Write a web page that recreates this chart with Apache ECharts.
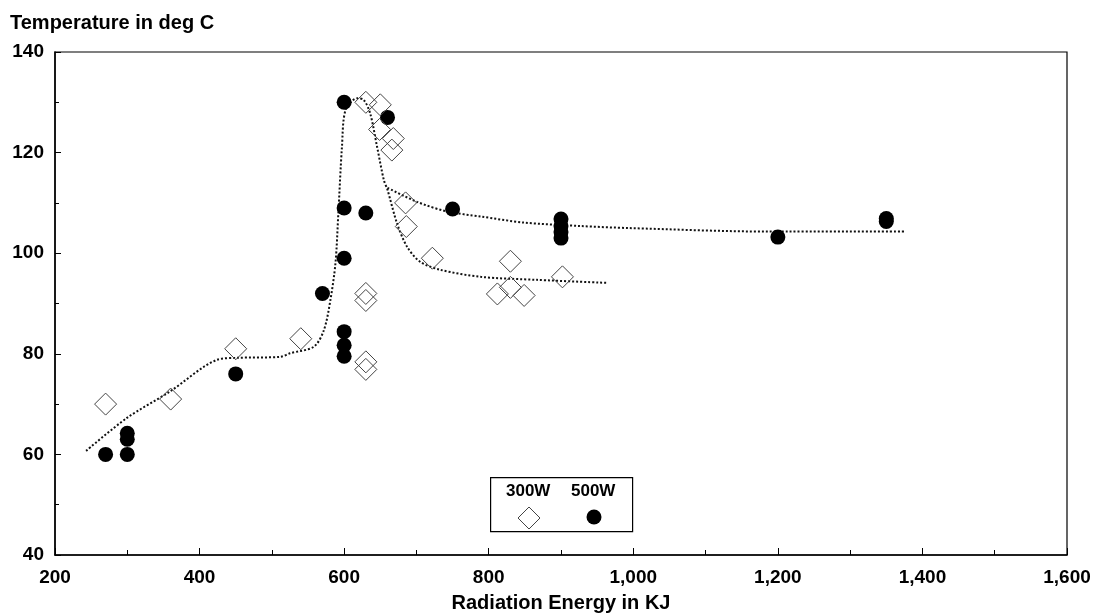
<!DOCTYPE html>
<html>
<head>
<meta charset="utf-8">
<script src="https://cdn.jsdelivr.net/npm/echarts@6/dist/echarts.min.js"></script>
<style>html,body{margin:0;padding:0;background:#fff}#c{width:1093px;height:613px}</style>
</head>
<body>
<div id="c"></div>
<script>
// 300W measurements [energy kJ, temperature °C]
const data300W = [[270,70],[360,71],[450,81],[540,83],[630,92],[630,90.6],[630,78.4],[630,76.9],
  [630,130],[650,129.5],[649,124.6],[668,122.8],[666,120.5],[685,110],[686,105.3],[722,99],
  [830,98.4],[830,93.2],[812,91.9],[849,91.6],[902,95.3]];
// 500W measurements
const data500W = [[270,60],[300,60],[300,63],[300,64.2],[450,76],[570,92],[600,130],[600,109],
  [600,99],[600,84.4],[600,81.7],[600,79.5],[630,108],[660,127],[750,108.8],[900,106.8],
  [900,105.4],[900,104.2],[900,103],[1200,103.2],[1350,106.3],[1350,106.9]];
// fitted trend curves (dotted)
const fitLower = [[243,60.7],[299,67.2],[359,72.5],[424,78.8],[452,79.2],[512,79.4],[525,80.1],
  [558,81.4],[572,84.7],[581,90.7],[588,98],[592,108],[597,121.2],[602,128.5],[618,130.8],
  [627,130.5],[636,127.8],[645.5,121.2],[655,114.5],[660,112.6],[673,106],[687,101.3],
  [705,98.3],[733,96.7],[789,95.3],[867,94.7],[964,94.1]];
const fitUpper = [[660,113],[701,110.2],[742,108.3],[789,107.3],[848,106.1],[927,105.4],
  [994,105],[1186,104.3],[1377,104.3]];
const seriesNames = ['300W','500W'];
const xTitle = 'Radiation Energy in KJ';
const yTitle = 'Temperature in deg C';

const FONT = 'Liberation Sans, Arial, sans-serif';
const chart = echarts.init(document.getElementById('c'));
const fmt = v => v.toLocaleString('en-US');
const lineStyle = {color:'#111', width:2, type:[2,2]};

chart.setOption({
  animation:false,
  backgroundColor:'#fff',
  grid:{left:55, right:26, top:52, bottom:58, outerBoundsMode:'none', containLabel:false,
    show:true, borderColor:'#000', borderWidth:1.2, backgroundColor:'transparent'},
  xAxis:{type:'value', min:200, max:1600, interval:200,
    name:xTitle, nameLocation:'middle', nameGap:38,
    nameTextStyle:{fontFamily:FONT, fontWeight:'bold', fontSize:20, color:'#000'},
    axisLine:{lineStyle:{color:'#000', width:1.5}},
    axisTick:{inside:true, length:7, lineStyle:{color:'#000'}},
    minorTick:{show:true, splitNumber:2, length:5, lineStyle:{color:'#000'}},
    splitLine:{show:false},
    axisLabel:{formatter:fmt, margin:13, fontFamily:FONT, fontWeight:'bold', fontSize:19, color:'#000'}
  },
  yAxis:{type:'value', min:40, max:140, interval:20,
    name:yTitle, nameLocation:'end', nameGap:19,
    nameTextStyle:{fontFamily:FONT, fontWeight:'bold', fontSize:20, color:'#000', align:'left', padding:[0,0,0,-45]},
    axisLine:{show:true, lineStyle:{color:'#000', width:1.5}},
    axisTick:{inside:true, length:6, lineStyle:{color:'#000'}},
    minorTick:{show:true, splitNumber:2, length:4, lineStyle:{color:'#000'}},
    splitLine:{show:false},
    axisLabel:{margin:11, fontFamily:FONT, fontWeight:'bold', fontSize:19, color:'#000'}
  },
  series:[
    {name:'fitLower', type:'line', data:fitLower, smooth:0.3, showSymbol:false, lineStyle:lineStyle, z:1},
    {name:'fitUpper', type:'line', data:fitUpper, smooth:0.3, showSymbol:false, lineStyle:lineStyle, z:1},
    {name:seriesNames[0], type:'scatter', data:data300W, symbol:'diamond', symbolSize:22,
      itemStyle:{color:'rgba(255,255,255,0)', borderColor:'#444', borderWidth:1, opacity:1}, z:3},
    {name:seriesNames[1], type:'scatter', data:data500W, symbol:'circle', symbolSize:15,
      itemStyle:{color:'#000', opacity:1}, z:2}
  ],
  graphic:[
    {type:'rect', left:490, top:477, shape:{width:142, height:54}, style:{fill:'#fff', stroke:'#000', lineWidth:1.2}, z:10},
    {type:'text', left:506, top:483, style:{text:seriesNames[0], font:'bold 17px '+FONT, fill:'#000'}, z:11},
    {type:'text', left:571, top:483, style:{text:seriesNames[1], font:'bold 17px '+FONT, fill:'#000'}, z:11},
    {type:'polygon', shape:{points:[[529,507],[540,518],[529,529],[518,518]]}, style:{fill:'none', stroke:'#444', lineWidth:1}, z:11},
    {type:'circle', shape:{cx:594, cy:517, r:7.5}, style:{fill:'#000'}, z:11}
  ]
});
</script>
</body>
</html>
